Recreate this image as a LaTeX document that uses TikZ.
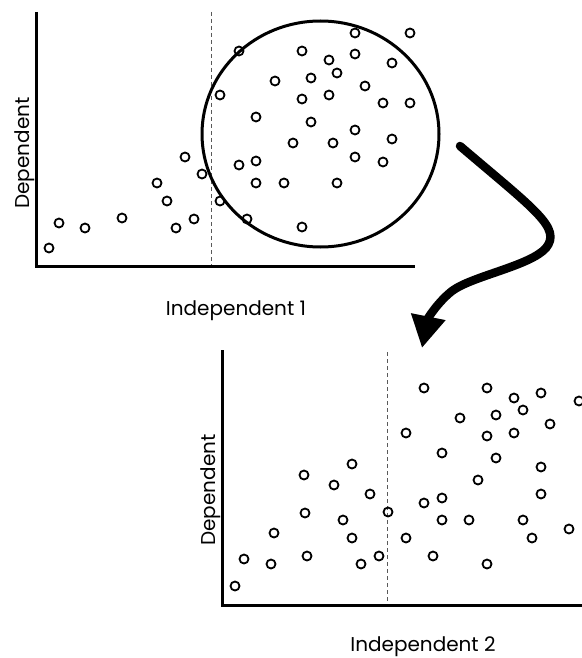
\documentclass[tikz,border=0pt]{standalone}
\usepackage{fontspec}
\setmainfont{Poppins}
\usetikzlibrary{arrows.meta,shapes.geometric}
\begin{document}
\begin{tikzpicture}[x=1pt,y=-1pt,
  dot/.style={circle,draw,inner sep=0pt,minimum size=9pt,line width=1.8pt},
  axisline/.style={line width=3pt,line join=miter},
  divider/.style={dash pattern=on 4pt off 3pt,line width=0.9pt,black!65},
  lbl/.style={font=\fontsize{20}{24}\selectfont,inner sep=0pt},
  bigarrow/.style={line width=8.5pt,line cap=round,-{Triangle[length=32pt,width=33pt]}}]
\useasboundingbox (0,0) rectangle (581,658);
% ---------- top plot ----------
\coordinate (t-top) at (36,12);
\coordinate (t-origin) at (36,266);
\coordinate (t-right) at (415,266);
\coordinate (t-dtop) at (211,12);
\coordinate (t-dbot) at (211,266);
\draw[divider] (t-dtop) -- (t-dbot);
\draw[axisline] (t-top) -- (t-origin) -- (t-right);
\foreach \px/\py [count=\i] in {49/248,59/223,85/228,122/218,157/183,167/201,176/228,194/219,185/157,202/174,220/201,220/95,239/51,247/219,239/165,256/161,256/183,256/117,275/81,284/183,293/143,355/33,410/33,302/51,329/60,355/54,392/63,337/73,311/78,365/86,302/99,329/95,383/103,410/103,311/122,355/130,392/139,333/143,355/157,383/162,337/183,302/227}
  \node[dot] (a\i) at (\px,\py) {};
\node[draw,ellipse,line width=3pt,minimum width=237pt,minimum height=226pt,inner sep=0pt] (sel) at (320.5,134) {};
\node[lbl,rotate=90,anchor=base] (ty) at (29.5,153) {Dependent};
\node[lbl,anchor=base] (tx) at (236,315) {Independent 1};
% ---------- arrow ----------
\coordinate (arrS) at (460,146);
\coordinate (arrT) at (422,348);
\draw[bigarrow] (arrS) .. controls (535,210) and (562,228) .. (546,248) .. controls (530,266) and (472,276) .. (452,291) .. controls (438,302) and (428,318) .. (arrT);
% ---------- bottom plot ----------
\coordinate (b-top) at (222,350);
\coordinate (b-origin) at (222,605);
\coordinate (b-right) at (590,605);
\coordinate (b-dtop) at (387,352);
\coordinate (b-dbot) at (387,605);
\draw[divider] (b-dtop) -- (b-dbot);
\draw[axisline] (b-top) -- (b-origin) -- (b-right);
\foreach \px/\py [count=\i] in {235/586,244/559,271/564,274/533,304/475,305/513,307/556,334/485,343/520,352/464,352/538,361/564,370/494,379/556,388/512,406/433,406/538,424/388,424/503,433/556,442/453,442/498,442/520,460/418,469/520,478/480,487/388,487/436,487/564,496/415,496/458,514/398,514/433,523/410,523/520,532/538,541/393,541/467,541/494,550/424,569/529,579/401}
  \node[dot] (b\i) at (\px,\py) {};
\node[lbl,rotate=90,anchor=base] (by) at (215.5,490) {Dependent};
\node[lbl,anchor=base] (bx) at (423,651) {Independent 2};
\end{tikzpicture}
\end{document}
